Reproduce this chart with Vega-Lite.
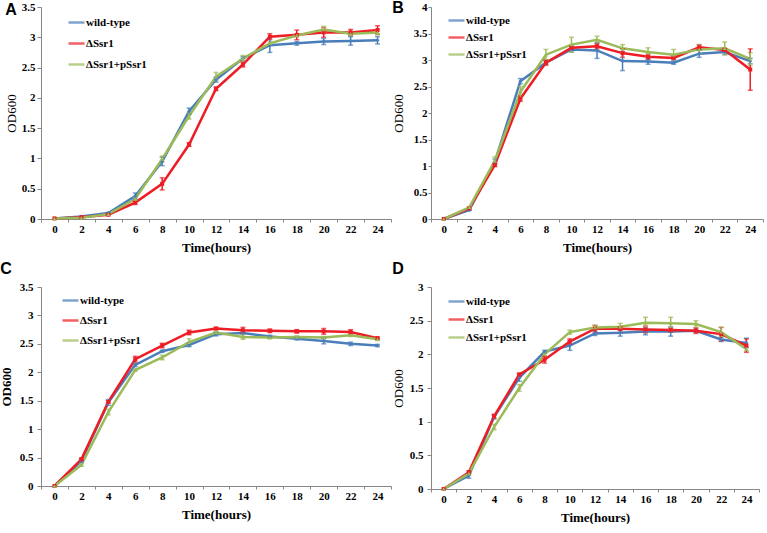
{
  "$schema": "https://vega.github.io/schema/vega-lite/v6.json",
  "background": "white",
  "padding": {"left": 0, "top": 0, "right": 0, "bottom": 0},
  "config": {
    "view": {"stroke": null},
    "axis": {"domainColor": "#868686", "tickColor": "#868686", "tickSize": 4, "labelFont": "Liberation Serif", "labelFontWeight": "bold", "labelFontSize": 11, "labelColor": "#000", "titleFont": "Liberation Serif", "titleFontSize": 13, "titleColor": "#000", "grid": false},
    "axisX": {"tickSize": 3, "labelPadding": 1, "titlePadding": 7},
    "legend": {"orient": "none", "symbolType": "stroke", "symbolSize": 256, "symbolStrokeWidth": 2.5, "labelFont": "Liberation Serif", "labelFontWeight": "bold", "labelFontSize": 11, "labelColor": "#000", "title": null, "labelOffset": 0},
    "title": {"font": "Liberation Sans", "fontSize": 16, "fontWeight": "bold", "anchor": "start", "frame": "bounds", "color": "#000"}
  },
  "datasets": {
    "growth": [
      {"panel":"A","strain":"wild-type","time":0,"od":0.01,"err":0},
      {"panel":"A","strain":"wild-type","time":2,"od":0.04,"err":0},
      {"panel":"A","strain":"wild-type","time":4,"od":0.1,"err":0.01},
      {"panel":"A","strain":"wild-type","time":6,"od":0.38,"err":0.05},
      {"panel":"A","strain":"wild-type","time":8,"od":0.95,"err":0.07},
      {"panel":"A","strain":"wild-type","time":10,"od":1.78,"err":0.05},
      {"panel":"A","strain":"wild-type","time":12,"od":2.3,"err":0.04},
      {"panel":"A","strain":"wild-type","time":14,"od":2.65,"err":0.03},
      {"panel":"A","strain":"wild-type","time":16,"od":2.87,"err":0.12},
      {"panel":"A","strain":"wild-type","time":18,"od":2.9,"err":0.03},
      {"panel":"A","strain":"wild-type","time":20,"od":2.93,"err":0.05},
      {"panel":"A","strain":"wild-type","time":22,"od":2.94,"err":0.07},
      {"panel":"A","strain":"wild-type","time":24,"od":2.95,"err":0.06},
      {"panel":"A","strain":"ΔSsr1","time":0,"od":0.01,"err":0},
      {"panel":"A","strain":"ΔSsr1","time":2,"od":0.03,"err":0},
      {"panel":"A","strain":"ΔSsr1","time":4,"od":0.07,"err":0.01},
      {"panel":"A","strain":"ΔSsr1","time":6,"od":0.27,"err":0.03},
      {"panel":"A","strain":"ΔSsr1","time":8,"od":0.58,"err":0.1},
      {"panel":"A","strain":"ΔSsr1","time":10,"od":1.23,"err":0.03},
      {"panel":"A","strain":"ΔSsr1","time":12,"od":2.15,"err":0.03},
      {"panel":"A","strain":"ΔSsr1","time":14,"od":2.55,"err":0.04},
      {"panel":"A","strain":"ΔSsr1","time":16,"od":3.01,"err":0.05},
      {"panel":"A","strain":"ΔSsr1","time":18,"od":3.04,"err":0.08},
      {"panel":"A","strain":"ΔSsr1","time":20,"od":3.08,"err":0.08},
      {"panel":"A","strain":"ΔSsr1","time":22,"od":3.08,"err":0.05},
      {"panel":"A","strain":"ΔSsr1","time":24,"od":3.12,"err":0.07},
      {"panel":"A","strain":"ΔSsr1+pSsr1","time":0,"od":0.01,"err":0},
      {"panel":"A","strain":"ΔSsr1+pSsr1","time":2,"od":0.02,"err":0},
      {"panel":"A","strain":"ΔSsr1+pSsr1","time":4,"od":0.08,"err":0},
      {"panel":"A","strain":"ΔSsr1+pSsr1","time":6,"od":0.33,"err":0.03},
      {"panel":"A","strain":"ΔSsr1+pSsr1","time":8,"od":0.99,"err":0.05},
      {"panel":"A","strain":"ΔSsr1+pSsr1","time":10,"od":1.7,"err":0.05},
      {"panel":"A","strain":"ΔSsr1+pSsr1","time":12,"od":2.35,"err":0.07},
      {"panel":"A","strain":"ΔSsr1+pSsr1","time":14,"od":2.65,"err":0.05},
      {"panel":"A","strain":"ΔSsr1+pSsr1","time":16,"od":2.9,"err":0.02},
      {"panel":"A","strain":"ΔSsr1+pSsr1","time":18,"od":3.03,"err":0.02},
      {"panel":"A","strain":"ΔSsr1+pSsr1","time":20,"od":3.13,"err":0.05},
      {"panel":"A","strain":"ΔSsr1+pSsr1","time":22,"od":3.06,"err":0.04},
      {"panel":"A","strain":"ΔSsr1+pSsr1","time":24,"od":3.08,"err":0.04},

      {"panel":"B","strain":"wild-type","time":0,"od":0,"err":0},
      {"panel":"B","strain":"wild-type","time":2,"od":0.17,"err":0.01},
      {"panel":"B","strain":"wild-type","time":4,"od":1.08,"err":0.05},
      {"panel":"B","strain":"wild-type","time":6,"od":2.6,"err":0.05},
      {"panel":"B","strain":"wild-type","time":8,"od":2.95,"err":0.03},
      {"panel":"B","strain":"wild-type","time":10,"od":3.2,"err":0.05},
      {"panel":"B","strain":"wild-type","time":12,"od":3.18,"err":0.15},
      {"panel":"B","strain":"wild-type","time":14,"od":2.98,"err":0.18},
      {"panel":"B","strain":"wild-type","time":16,"od":2.97,"err":0.05},
      {"panel":"B","strain":"wild-type","time":18,"od":2.95,"err":0.03},
      {"panel":"B","strain":"wild-type","time":20,"od":3.12,"err":0.07},
      {"panel":"B","strain":"wild-type","time":22,"od":3.15,"err":0.05},
      {"panel":"B","strain":"wild-type","time":24,"od":2.98,"err":0.05},
      {"panel":"B","strain":"ΔSsr1","time":0,"od":0,"err":0},
      {"panel":"B","strain":"ΔSsr1","time":2,"od":0.2,"err":0},
      {"panel":"B","strain":"ΔSsr1","time":4,"od":1.02,"err":0.03},
      {"panel":"B","strain":"ΔSsr1","time":6,"od":2.27,"err":0.05},
      {"panel":"B","strain":"ΔSsr1","time":8,"od":2.95,"err":0.05},
      {"panel":"B","strain":"ΔSsr1","time":10,"od":3.23,"err":0.03},
      {"panel":"B","strain":"ΔSsr1","time":12,"od":3.26,"err":0.05},
      {"panel":"B","strain":"ΔSsr1","time":14,"od":3.13,"err":0.08},
      {"panel":"B","strain":"ΔSsr1","time":16,"od":3.06,"err":0.05},
      {"panel":"B","strain":"ΔSsr1","time":18,"od":3.04,"err":0.03},
      {"panel":"B","strain":"ΔSsr1","time":20,"od":3.24,"err":0.05},
      {"panel":"B","strain":"ΔSsr1","time":22,"od":3.19,"err":0.03},
      {"panel":"B","strain":"ΔSsr1","time":24,"od":2.82,"err":0.39},
      {"panel":"B","strain":"ΔSsr1+pSsr1","time":0,"od":0,"err":0},
      {"panel":"B","strain":"ΔSsr1+pSsr1","time":2,"od":0.22,"err":0.01},
      {"panel":"B","strain":"ΔSsr1+pSsr1","time":4,"od":1.1,"err":0.07},
      {"panel":"B","strain":"ΔSsr1+pSsr1","time":6,"od":2.4,"err":0.1},
      {"panel":"B","strain":"ΔSsr1+pSsr1","time":8,"od":3.1,"err":0.1},
      {"panel":"B","strain":"ΔSsr1+pSsr1","time":10,"od":3.29,"err":0.14},
      {"panel":"B","strain":"ΔSsr1+pSsr1","time":12,"od":3.38,"err":0.07},
      {"panel":"B","strain":"ΔSsr1+pSsr1","time":14,"od":3.22,"err":0.07},
      {"panel":"B","strain":"ΔSsr1+pSsr1","time":16,"od":3.15,"err":0.08},
      {"panel":"B","strain":"ΔSsr1+pSsr1","time":18,"od":3.1,"err":0.1},
      {"panel":"B","strain":"ΔSsr1+pSsr1","time":20,"od":3.2,"err":0.08},
      {"panel":"B","strain":"ΔSsr1+pSsr1","time":22,"od":3.22,"err":0.12},
      {"panel":"B","strain":"ΔSsr1+pSsr1","time":24,"od":3.02,"err":0.12},

      {"panel":"C","strain":"wild-type","time":0,"od":0,"err":0},
      {"panel":"C","strain":"wild-type","time":2,"od":0.44,"err":0.02},
      {"panel":"C","strain":"wild-type","time":4,"od":1.47,"err":0.05},
      {"panel":"C","strain":"wild-type","time":6,"od":2.13,"err":0.03},
      {"panel":"C","strain":"wild-type","time":8,"od":2.37,"err":0.02},
      {"panel":"C","strain":"wild-type","time":10,"od":2.48,"err":0.03},
      {"panel":"C","strain":"wild-type","time":12,"od":2.67,"err":0.03},
      {"panel":"C","strain":"wild-type","time":14,"od":2.69,"err":0.02},
      {"panel":"C","strain":"wild-type","time":16,"od":2.63,"err":0.02},
      {"panel":"C","strain":"wild-type","time":18,"od":2.59,"err":0.02},
      {"panel":"C","strain":"wild-type","time":20,"od":2.55,"err":0.05},
      {"panel":"C","strain":"wild-type","time":22,"od":2.5,"err":0.03},
      {"panel":"C","strain":"wild-type","time":24,"od":2.47,"err":0.02},
      {"panel":"C","strain":"ΔSsr1","time":0,"od":0,"err":0},
      {"panel":"C","strain":"ΔSsr1","time":2,"od":0.47,"err":0.02},
      {"panel":"C","strain":"ΔSsr1","time":4,"od":1.48,"err":0.02},
      {"panel":"C","strain":"ΔSsr1","time":6,"od":2.23,"err":0.05},
      {"panel":"C","strain":"ΔSsr1","time":8,"od":2.47,"err":0.04},
      {"panel":"C","strain":"ΔSsr1","time":10,"od":2.7,"err":0.04},
      {"panel":"C","strain":"ΔSsr1","time":12,"od":2.77,"err":0.02},
      {"panel":"C","strain":"ΔSsr1","time":14,"od":2.74,"err":0.05},
      {"panel":"C","strain":"ΔSsr1","time":16,"od":2.73,"err":0.03},
      {"panel":"C","strain":"ΔSsr1","time":18,"od":2.72,"err":0.03},
      {"panel":"C","strain":"ΔSsr1","time":20,"od":2.72,"err":0.05},
      {"panel":"C","strain":"ΔSsr1","time":22,"od":2.71,"err":0.04},
      {"panel":"C","strain":"ΔSsr1","time":24,"od":2.6,"err":0.02},
      {"panel":"C","strain":"ΔSsr1+pSsr1","time":0,"od":0,"err":0},
      {"panel":"C","strain":"ΔSsr1+pSsr1","time":2,"od":0.37,"err":0.02},
      {"panel":"C","strain":"ΔSsr1+pSsr1","time":4,"od":1.3,"err":0.05},
      {"panel":"C","strain":"ΔSsr1+pSsr1","time":6,"od":2.04,"err":0.02},
      {"panel":"C","strain":"ΔSsr1+pSsr1","time":8,"od":2.26,"err":0.04},
      {"panel":"C","strain":"ΔSsr1+pSsr1","time":10,"od":2.53,"err":0.06},
      {"panel":"C","strain":"ΔSsr1+pSsr1","time":12,"od":2.7,"err":0.02},
      {"panel":"C","strain":"ΔSsr1+pSsr1","time":14,"od":2.62,"err":0.04},
      {"panel":"C","strain":"ΔSsr1+pSsr1","time":16,"od":2.61,"err":0.02},
      {"panel":"C","strain":"ΔSsr1+pSsr1","time":18,"od":2.62,"err":0.02},
      {"panel":"C","strain":"ΔSsr1+pSsr1","time":20,"od":2.61,"err":0.02},
      {"panel":"C","strain":"ΔSsr1+pSsr1","time":22,"od":2.65,"err":0.02},
      {"panel":"C","strain":"ΔSsr1+pSsr1","time":24,"od":2.58,"err":0.02},

      {"panel":"D","strain":"wild-type","time":0,"od":0,"err":0},
      {"panel":"D","strain":"wild-type","time":2,"od":0.2,"err":0.04},
      {"panel":"D","strain":"wild-type","time":4,"od":1.07,"err":0.03},
      {"panel":"D","strain":"wild-type","time":6,"od":1.65,"err":0.05},
      {"panel":"D","strain":"wild-type","time":8,"od":2.04,"err":0.02},
      {"panel":"D","strain":"wild-type","time":10,"od":2.13,"err":0.07},
      {"panel":"D","strain":"wild-type","time":12,"od":2.31,"err":0.03},
      {"panel":"D","strain":"wild-type","time":14,"od":2.32,"err":0.05},
      {"panel":"D","strain":"wild-type","time":16,"od":2.34,"err":0.05},
      {"panel":"D","strain":"wild-type","time":18,"od":2.34,"err":0.07},
      {"panel":"D","strain":"wild-type","time":20,"od":2.35,"err":0.02},
      {"panel":"D","strain":"wild-type","time":22,"od":2.22,"err":0.03},
      {"panel":"D","strain":"wild-type","time":24,"od":2.17,"err":0.07},
      {"panel":"D","strain":"ΔSsr1","time":0,"od":0,"err":0},
      {"panel":"D","strain":"ΔSsr1","time":2,"od":0.25,"err":0.02},
      {"panel":"D","strain":"ΔSsr1","time":4,"od":1.08,"err":0.03},
      {"panel":"D","strain":"ΔSsr1","time":6,"od":1.7,"err":0.02},
      {"panel":"D","strain":"ΔSsr1","time":8,"od":1.92,"err":0.05},
      {"panel":"D","strain":"ΔSsr1","time":10,"od":2.19,"err":0.04},
      {"panel":"D","strain":"ΔSsr1","time":12,"od":2.38,"err":0.05},
      {"panel":"D","strain":"ΔSsr1","time":14,"od":2.38,"err":0.03},
      {"panel":"D","strain":"ΔSsr1","time":16,"od":2.37,"err":0.05},
      {"panel":"D","strain":"ΔSsr1","time":18,"od":2.36,"err":0.03},
      {"panel":"D","strain":"ΔSsr1","time":20,"od":2.35,"err":0.04},
      {"panel":"D","strain":"ΔSsr1","time":22,"od":2.3,"err":0.1},
      {"panel":"D","strain":"ΔSsr1","time":24,"od":2.13,"err":0.1},
      {"panel":"D","strain":"ΔSsr1+pSsr1","time":0,"od":0,"err":0},
      {"panel":"D","strain":"ΔSsr1+pSsr1","time":2,"od":0.23,"err":0.02},
      {"panel":"D","strain":"ΔSsr1+pSsr1","time":4,"od":0.92,"err":0.04},
      {"panel":"D","strain":"ΔSsr1+pSsr1","time":6,"od":1.5,"err":0.05},
      {"panel":"D","strain":"ΔSsr1+pSsr1","time":8,"od":2.0,"err":0.02},
      {"panel":"D","strain":"ΔSsr1+pSsr1","time":10,"od":2.33,"err":0.03},
      {"panel":"D","strain":"ΔSsr1+pSsr1","time":12,"od":2.4,"err":0.03},
      {"panel":"D","strain":"ΔSsr1+pSsr1","time":14,"od":2.41,"err":0.05},
      {"panel":"D","strain":"ΔSsr1+pSsr1","time":16,"od":2.47,"err":0.08},
      {"panel":"D","strain":"ΔSsr1+pSsr1","time":18,"od":2.46,"err":0.09},
      {"panel":"D","strain":"ΔSsr1+pSsr1","time":20,"od":2.45,"err":0.05},
      {"panel":"D","strain":"ΔSsr1+pSsr1","time":22,"od":2.33,"err":0.07},
      {"panel":"D","strain":"ΔSsr1+pSsr1","time":24,"od":2.08,"err":0.03}
    ]
  },
  "columns": 2,
  "spacing": {"row": 7, "column": 0},
  "resolve": {"scale": {"x": "independent", "y": "independent"}, "legend": {"color": "independent"}},
  "concat": [
    {
      "width": 350, "height": 212,
      "title": {"text": "A", "offset": -17},
      "data": {"name": "growth"},
      "transform": [{"filter": "datum.panel === 'A'"}],
      "encoding": {
        "x": {"field": "time", "type": "ordinal", "scale": {"type": "band", "paddingInner": 0, "paddingOuter": 0}, "axis": {"title": "Time(hours)", "titleFontWeight": "bold", "labelAngle": 0, "tickBand": "extent"}},
        "y": {"field": "od", "type": "quantitative", "scale": {"domain": [0, 3.5], "nice": false}, "axis": {"title": "OD600", "titleFontWeight": "normal", "values": [0, 0.5, 1, 1.5, 2, 2.5, 3, 3.5], "format": "~g", "labelPadding": 2, "titlePadding": 3}},
        "color": {"field": "strain", "type": "nominal", "scale": {"domain": ["wild-type", "ΔSsr1", "ΔSsr1+pSsr1"], "range": ["#4A7EBB", "#EE1C25", "#9BBB59"]}, "legend": {"legendX": 26, "legendY": 6, "rowPadding": 6}}
      },
      "layer": [
        {"mark": {"type": "line", "strokeWidth": 2.5}},
        {"transform": [{"filter": "datum.err > 0"}], "mark": {"type": "errorbar", "ticks": {"size": 5}, "thickness": 1.5}, "encoding": {"yError": {"field": "err"}}},
        {"mark": {"type": "point", "filled": true, "size": 16, "opacity": 1}, "encoding": {"shape": {"field": "strain", "type": "nominal", "scale": {"domain": ["wild-type", "ΔSsr1", "ΔSsr1+pSsr1"], "range": ["diamond", "square", "triangle-up"]}, "legend": null}}}
      ]
    },
    {
      "width": 332, "height": 212,
      "title": {"text": "B", "offset": -15},
      "data": {"name": "growth"},
      "transform": [{"filter": "datum.panel === 'B'"}],
      "encoding": {
        "x": {"field": "time", "type": "ordinal", "scale": {"type": "band", "paddingInner": 0, "paddingOuter": 0}, "axis": {"title": "Time(hours)", "titleFontWeight": "bold", "labelAngle": 0, "tickBand": "extent"}},
        "y": {"field": "od", "type": "quantitative", "scale": {"domain": [0, 4], "nice": false}, "axis": {"title": "OD600", "titleFontWeight": "normal", "values": [0, 0.5, 1, 1.5, 2, 2.5, 3, 3.5, 4], "format": "~g", "tickSize": 3, "labelPadding": 1, "titlePadding": 8}},
        "color": {"field": "strain", "type": "nominal", "scale": {"domain": ["wild-type", "ΔSsr1", "ΔSsr1+pSsr1"], "range": ["#4A7EBB", "#EE1C25", "#9BBB59"]}, "legend": {"legendX": 16, "legendY": 4, "rowPadding": 2}}
      },
      "layer": [
        {"mark": {"type": "line", "strokeWidth": 2.5}},
        {"transform": [{"filter": "datum.err > 0"}], "mark": {"type": "errorbar", "ticks": {"size": 5}, "thickness": 1.5}, "encoding": {"yError": {"field": "err"}}},
        {"mark": {"type": "point", "filled": true, "size": 16, "opacity": 1}, "encoding": {"shape": {"field": "strain", "type": "nominal", "scale": {"domain": ["wild-type", "ΔSsr1", "ΔSsr1+pSsr1"], "range": ["diamond", "square", "triangle-up"]}, "legend": null}}}
      ]
    },
    {
      "width": 350, "height": 199,
      "title": {"text": "C", "offset": 4},
      "data": {"name": "growth"},
      "transform": [{"filter": "datum.panel === 'C'"}],
      "encoding": {
        "x": {"field": "time", "type": "ordinal", "scale": {"type": "band", "paddingInner": 0, "paddingOuter": 0}, "axis": {"title": "Time(hours)", "titleFontWeight": "bold", "labelAngle": 0, "tickBand": "extent"}},
        "y": {"field": "od", "type": "quantitative", "scale": {"domain": [0, 3.5], "nice": false}, "axis": {"title": "OD600", "titleFontWeight": "bold", "values": [0, 0.5, 1, 1.5, 2, 2.5, 3, 3.5], "format": "~g", "labelPadding": 4, "titlePadding": 6}},
        "color": {"field": "strain", "type": "nominal", "scale": {"domain": ["wild-type", "ΔSsr1", "ΔSsr1+pSsr1"], "range": ["#4A7EBB", "#EE1C25", "#9BBB59"]}, "legend": {"legendX": 20, "legendY": 4, "rowPadding": 5}}
      },
      "layer": [
        {"mark": {"type": "line", "strokeWidth": 2.5}},
        {"transform": [{"filter": "datum.err > 0"}], "mark": {"type": "errorbar", "ticks": {"size": 5}, "thickness": 1.5}, "encoding": {"yError": {"field": "err"}}},
        {"mark": {"type": "point", "filled": true, "size": 16, "opacity": 1}, "encoding": {"shape": {"field": "strain", "type": "nominal", "scale": {"domain": ["wild-type", "ΔSsr1", "ΔSsr1+pSsr1"], "range": ["diamond", "square", "triangle-up"]}, "legend": null}}}
      ]
    },
    {
      "width": 328, "height": 202,
      "title": {"text": "D", "offset": 4},
      "data": {"name": "growth"},
      "transform": [{"filter": "datum.panel === 'D'"}],
      "encoding": {
        "x": {"field": "time", "type": "ordinal", "scale": {"type": "band", "paddingInner": 0, "paddingOuter": 0}, "axis": {"title": "Time(hours)", "titleFontWeight": "bold", "labelAngle": 0, "tickBand": "extent"}},
        "y": {"field": "od", "type": "quantitative", "scale": {"domain": [0, 3], "nice": false}, "axis": {"title": "OD600", "titleFontWeight": "normal", "values": [0, 0.5, 1, 1.5, 2, 2.5, 3], "format": "~g", "labelPadding": 4, "titlePadding": 4}},
        "color": {"field": "strain", "type": "nominal", "scale": {"domain": ["wild-type", "ΔSsr1", "ΔSsr1+pSsr1"], "range": ["#4A7EBB", "#EE1C25", "#9BBB59"]}, "legend": {"legendX": 16, "legendY": 5, "rowPadding": 3}}
      },
      "layer": [
        {"mark": {"type": "line", "strokeWidth": 2.5}},
        {"transform": [{"filter": "datum.err > 0"}], "mark": {"type": "errorbar", "ticks": {"size": 5}, "thickness": 1.5}, "encoding": {"yError": {"field": "err"}}},
        {"mark": {"type": "point", "filled": true, "size": 16, "opacity": 1}, "encoding": {"shape": {"field": "strain", "type": "nominal", "scale": {"domain": ["wild-type", "ΔSsr1", "ΔSsr1+pSsr1"], "range": ["diamond", "square", "triangle-up"]}, "legend": null}}}
      ]
    }
  ]
}
